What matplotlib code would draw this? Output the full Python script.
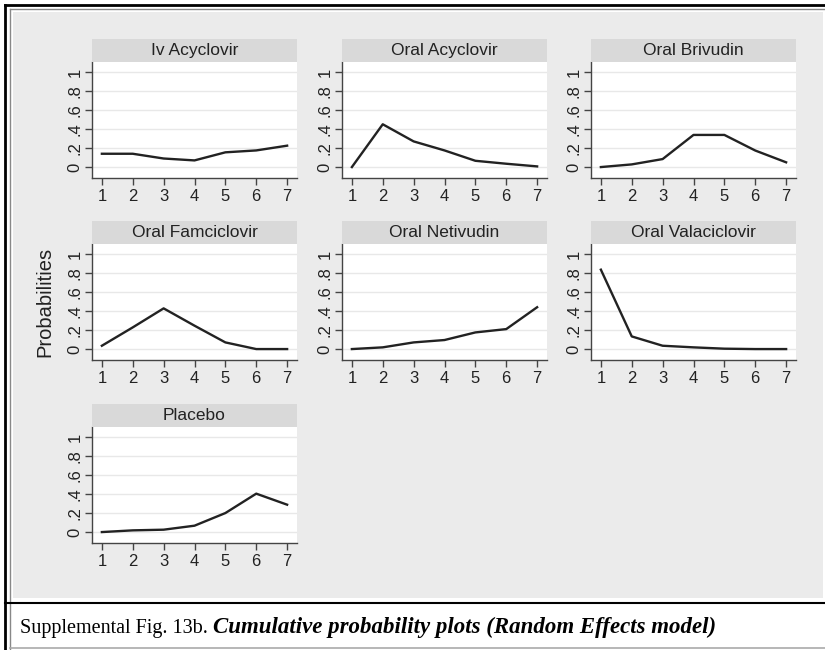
import matplotlib
matplotlib.use("Agg")
import matplotlib.pyplot as plt
from matplotlib.lines import Line2D
from matplotlib.patches import Rectangle

# Ranks 1..7 and the probability of each treatment taking that rank
ranks = [1, 2, 3, 4, 5, 6, 7]

treatments = ["Iv Acyclovir", "Oral Acyclovir", "Oral Brivudin",
              "Oral Famciclovir", "Oral Netivudin", "Oral Valaciclovir",
              "Placebo"]

iv_acyclovir = [0.14, 0.14, 0.09, 0.07, 0.155, 0.175, 0.225]
oral_acyclovir = [0.0, 0.45, 0.27, 0.175, 0.066, 0.035, 0.007]
oral_brivudin = [0.0, 0.028, 0.084, 0.338, 0.338, 0.174, 0.05]
oral_famciclovir = [0.035, 0.228, 0.428, 0.246, 0.07, 0.0, 0.0]
oral_netivudin = [0.0, 0.018, 0.07, 0.095, 0.175, 0.21, 0.44]
oral_valaciclovir = [0.835, 0.133, 0.035, 0.018, 0.004, 0.0, 0.0]
placebo = [0.0, 0.018, 0.025, 0.067, 0.2, 0.404, 0.288]

series = [iv_acyclovir, oral_acyclovir, oral_brivudin, oral_famciclovir,
          oral_netivudin, oral_valaciclovir, placebo]

y_ticks = [0, 0.2, 0.4, 0.6, 0.8, 1]
y_tick_labels = ["0", ".2", ".4", ".6", ".8", "1"]

W, H = 825, 650
fig = plt.figure(figsize=(W / 100, H / 100), dpi=100)
fig.patch.set_facecolor("white")


def fx(px):
    return px / W


def fy(py):
    return 1 - py / H


# grey graph region and the page frame around it (kept under the axes)
fig.patches.append(Rectangle((fx(13), fy(598)), fx(823) - fx(13), fy(12) - fy(598),
                             transform=fig.transFigure, facecolor="#ebebeb",
                             edgecolor="none", zorder=-10))
frame = [
    ((5, 825), (5, 5), "black", 2.0),
    ((10, 825), (9, 9), "#888888", 1.0),
    ((5, 5), (5, 650), "black", 2.0),
    ((10, 10), (9, 650), "#888888", 1.0),
    ((5, 825), (603, 603), "black", 1.5),
    ((10, 825), (648, 648), "#aaaaaa", 1.2),
]
for xs, ys, c, lw in frame:
    fig.lines.append(Line2D([fx(x) for x in xs], [fy(y) for y in ys],
                            transform=fig.transFigure, color=c, lw=lw, zorder=-5))

col_left = [92, 342, 591]
row_top = [62, 244, 427]
panel_w = 205
panel_h = 116
strip_h = 23

sans = ["Liberation Sans", "DejaVu Sans"]

for i, (name, vals) in enumerate(zip(treatments, series)):
    r, c = divmod(i, 3)
    left = col_left[c]
    top = row_top[r]

    ax = fig.add_axes([fx(left), fy(top + panel_h), panel_w / W, panel_h / H])
    ax.set_facecolor("white")
    for y in y_ticks:
        ax.axhline(y, color="#e8e8e8", lw=1.0, zorder=1)
    ax.plot(ranks, vals, color="#222222", lw=1.7, zorder=3)
    ax.set_xlim(0.68, 7.32)
    ax.set_ylim(-0.115, 1.105)
    ax.set_xticks(ranks)
    ax.set_yticks(y_ticks)
    ax.set_yticklabels(y_tick_labels, rotation=90, va="center")
    for s in ["top", "right"]:
        ax.spines[s].set_visible(False)
    for s in ["left", "bottom"]:
        ax.spines[s].set_color("#444444")
        ax.spines[s].set_linewidth(1.0)
    ax.tick_params(direction="out", length=5, width=1.0, color="#444444",
                   labelcolor="#222222", labelsize=12)
    ax.tick_params(axis="y", pad=2)
    ax.tick_params(axis="x", pad=3)
    for lab in ax.get_xticklabels() + ax.get_yticklabels():
        lab.set_family(sans)

    strip = fig.add_axes([fx(left), fy(top), panel_w / W, strip_h / H])
    strip.set_facecolor("#d9d9d9")
    strip.set_xticks([])
    strip.set_yticks([])
    for s in strip.spines.values():
        s.set_visible(False)
    strip.text(0.5, 0.5, name, ha="center", va="center", fontsize=12.5,
               color="#222222", family=sans, transform=strip.transAxes)

fig.text(fx(45), fy(302), "Probabilities", rotation=90, ha="center", va="center",
         fontsize=14.5, color="#222222", family=sans)

# caption: plain lead-in followed by bold italic description
serif = ["Liberation Serif", "DejaVu Serif"]
lead = fig.text(fx(20), fy(633), "Supplemental Fig. 13b. ", fontsize=14.5,
                family=serif, color="black", va="baseline")
renderer = fig.canvas.get_renderer()
bb = lead.get_window_extent(renderer=renderer)
fig.text(bb.x1 / W, fy(633), "Cumulative probability plots (Random Effects model)",
         fontsize=16.5, family=serif, style="italic", weight="bold",
         color="black", va="baseline")

fig.savefig("out.png", dpi=100)
